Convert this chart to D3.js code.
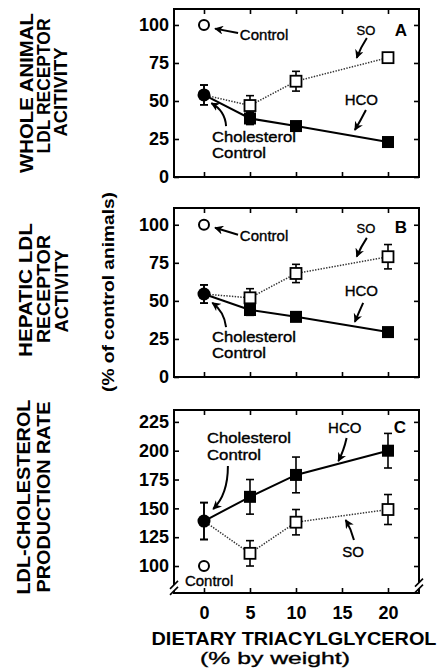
<!DOCTYPE html>
<html>
<head>
  <meta charset="utf-8">
  <title>LDL receptor activity and production rate</title>
  <script src="https://d3js.org/d3.v7.min.js"></script>
  <style>
    body { margin: 0; background: #fff; }
    text { font-family: "Liberation Sans", Arial, sans-serif; fill: #000; }
  </style>
</head>
<body>
  <script>
    // dietary triacylglycerol, % by weight
    var doses = [0, 5, 10, 20];
    var xTicks = [0, 5, 10, 15, 20];

    // panel A: whole animal LDL receptor activity (% of control)
    var wholeHCO = [54, 38.5, 33.5, 23];
    var wholeHCOerr = [6.5, 4, 2.5, 2];
    var wholeSO = [54, 47, 63, 78.5];
    var wholeSOerr = [6.5, 6.5, 6.5, 2];

    // panel B: hepatic LDL receptor activity (% of control)
    var hepHCO = [54.5, 44, 39.5, 29.5];
    var hepHCOerr = [6, 3.5, 2.5, 2];
    var hepSO = [54.5, 52, 68, 79];
    var hepSOerr = [6, 6, 6, 8];

    // panel C: LDL-cholesterol production rate (% of control)
    var prodHCO = [139, 160, 179, 200];
    var prodHCOerr = [16, 15, 15.5, 15];
    var prodSO = [139, 111, 138, 149];
    var prodSOerr = [16, 11, 11, 13];

    var controlValue = 100;
    var ticksAB = [0, 25, 50, 75, 100];
    var ticksC = [100, 125, 150, 175, 200, 225];

    var W = 443, H = 669;
    var svg = d3.select("body").append("svg")
      .attr("width", W).attr("height", H);

    var x = d3.scaleLinear().domain([-3.26, 23.37]).range([174, 419]);

    var panels = [
      { key: "A", hco: wholeHCO, hcoErr: wholeHCOerr, so: wholeSO, soErr: wholeSOerr,
        y: d3.scaleLinear().domain([0, 110.5]).range([177, 9]), ticks: ticksAB,
        title: [["WHOLE  ANIMAL", 33, 93, 160], ["LDL  RECEPTOR", 50, 86, 135], ["ACITIVITY", 67, 92, 89]] },
      { key: "B", hco: hepHCO, hcoErr: hepHCOerr, so: hepSO, soErr: hepSOerr,
        y: d3.scaleLinear().domain([0, 111]).range([377, 208]), ticks: ticksAB,
        title: [["HEPATIC  LDL", 32, 290, 134], ["RECEPTOR", 50, 289, 108], ["ACTIVITY", 68, 291, 83]] },
      { key: "C", hco: prodHCO, hcoErr: prodHCOerr, so: prodSO, soErr: prodSOerr,
        y: d3.scaleLinear().domain([76.6, 235.3]).range([593, 410]), ticks: ticksC,
        title: [["LDL-CHOLESTEROL", 30, 497, 195], ["PRODUCTION RATE", 50, 497, 191]] }
    ];

    var defs = svg.append("defs");
    defs.append("marker")
      .attr("id", "head")
      .attr("viewBox", "0 0 10 10")
      .attr("refX", 9).attr("refY", 5)
      .attr("markerWidth", 9).attr("markerHeight", 9)
      .attr("markerUnits", "userSpaceOnUse")
      .attr("orient", "auto")
      .append("path")
      .attr("d", "M0,0 L10,5 L0,10 L3,5 Z")
      .attr("fill", "#000");

    function drawPanel(p) {
      var y = p.y;
      var g = svg.append("g");
      var x0 = x.range()[0], x1 = x.range()[1];
      var y0 = y.range()[0], y1 = y.range()[1];

      // inward ticks on every side
      g.append("g").attr("transform", "translate(" + x0 + ",0)")
        .call(d3.axisLeft(y).tickValues(p.ticks).tickSizeInner(-5).tickSizeOuter(0).tickPadding(5))
        .call(function (a) {
          a.select(".domain").remove();
          a.selectAll("line").attr("stroke-width", 1.6);
          a.selectAll("text").attr("font-size", 18).attr("font-weight", "bold").attr("font-family", null);
        });
      g.append("g").attr("transform", "translate(" + x1 + ",0)")
        .call(d3.axisRight(y).tickValues(p.ticks).tickSizeInner(-5).tickSizeOuter(0).tickFormat(""))
        .call(function (a) { a.select(".domain").remove(); a.selectAll("line").attr("stroke-width", 1.6); });
      g.append("g").attr("transform", "translate(0," + y1 + ")")
        .call(d3.axisTop(x).tickValues(xTicks).tickSizeInner(-5).tickSizeOuter(0).tickFormat(""))
        .call(function (a) { a.select(".domain").remove(); a.selectAll("line").attr("stroke-width", 1.6); });
      g.append("g").attr("transform", "translate(0," + y0 + ")")
        .call(d3.axisBottom(x).tickValues(xTicks).tickSizeInner(-5).tickSizeOuter(0).tickPadding(13)
          .tickFormat(p.key === "C" ? d3.format("d") : ""))
        .call(function (a) {
          a.select(".domain").remove();
          a.selectAll("line").attr("stroke-width", 1.6);
          a.selectAll("text").attr("font-size", 18).attr("font-weight", "bold").attr("font-family", null);
        });

      g.append("rect")
        .attr("x", x0).attr("y", y1)
        .attr("width", x1 - x0).attr("height", y0 - y1)
        .attr("fill", "none").attr("stroke", "#000").attr("stroke-width", 2);

      // left titles
      p.title.forEach(function (t) {
        g.append("text")
          .attr("transform", "translate(" + t[1] + "," + t[2] + ") rotate(-90)")
          .attr("text-anchor", "middle")
          .attr("font-size", 18).attr("font-weight", "bold")
          .attr("textLength", t[3]).attr("lengthAdjust", "spacingAndGlyphs")
          .text(t[0]);
      });

      var line = d3.line().x(function (d) { return x(d[0]); }).y(function (d) { return y(d[1]); });
      var soPts = doses.map(function (d, j) { return [d, p.so[j], p.soErr[j]]; });
      var hcoPts = doses.map(function (d, j) { return [d, p.hco[j], p.hcoErr[j]]; });

      function errBars(pts) {
        pts.forEach(function (d) {
          var eg = g.append("g").attr("stroke", "#000").attr("stroke-width", 1.6);
          eg.append("line").attr("x1", x(d[0])).attr("x2", x(d[0]))
            .attr("y1", y(d[1] - d[2])).attr("y2", y(d[1] + d[2]));
          [d[1] - d[2], d[1] + d[2]].forEach(function (v) {
            eg.append("line").attr("x1", x(d[0]) - 4).attr("x2", x(d[0]) + 4)
              .attr("y1", y(v)).attr("y2", y(v));
          });
        });
      }

      // SO (dotted, open squares)
      errBars(soPts);
      g.append("path").datum(soPts).attr("d", line)
        .attr("fill", "none").attr("stroke", "#333").attr("stroke-width", 1.5)
        .attr("stroke-dasharray", "1.4,1.4");
      g.selectAll(".so").data(soPts.slice(1)).enter().append("rect")
        .attr("x", function (d) { return x(d[0]) - 5.5; })
        .attr("y", function (d) { return y(d[1]) - 5.5; })
        .attr("width", 11).attr("height", 11)
        .attr("fill", "#fff").attr("stroke", "#000").attr("stroke-width", 1.8);

      // HCO (solid, filled squares)
      errBars(hcoPts);
      g.append("path").datum(hcoPts).attr("d", line)
        .attr("fill", "none").attr("stroke", "#000").attr("stroke-width", 2);
      g.selectAll(".hco").data(hcoPts.slice(1)).enter().append("rect")
        .attr("x", function (d) { return x(d[0]) - 6; })
        .attr("y", function (d) { return y(d[1]) - 6; })
        .attr("width", 12).attr("height", 12)
        .attr("fill", "#000");

      // cholesterol control (filled circle) and control (open circle)
      g.append("circle").attr("cx", x(0)).attr("cy", y(p.hco[0])).attr("r", 6.5).attr("fill", "#000");
      g.append("circle").attr("cx", x(0)).attr("cy", y(controlValue)).attr("r", 5)
        .attr("fill", "#fff").attr("stroke", "#000").attr("stroke-width", 2);

      return g;
    }

    panels.forEach(drawPanel);

    // annotation helpers (positions in data units of each panel)
    function label(p, txt, vx, vy, size, anchor, bold, len) {
      var t = svg.append("text")
        .attr("x", x(vx)).attr("y", p.y(vy))
        .attr("font-size", size)
        .attr("font-weight", bold ? "bold" : "normal")
        .attr("stroke", bold ? null : "#000").attr("stroke-width", bold ? null : 0.35)
        .attr("text-anchor", anchor || "start")
        .text(txt);
      if (len) t.attr("textLength", len).attr("lengthAdjust", "spacingAndGlyphs");
    }
    function arrow(p, pts) {
      var path = d3.path();
      path.moveTo(x(pts[0][0]), p.y(pts[0][1]));
      if (pts.length === 3) {
        path.quadraticCurveTo(x(pts[1][0]), p.y(pts[1][1]), x(pts[2][0]), p.y(pts[2][1]));
      } else {
        path.lineTo(x(pts[1][0]), p.y(pts[1][1]));
      }
      svg.append("path").attr("d", path.toString())
        .attr("fill", "none").attr("stroke", "#000").attr("stroke-width", 2)
        .attr("marker-end", "url(#head)");
    }

    var A = panels[0], B = panels[1], C = panels[2];

    label(A, "Control", 3.9, 90.1, 15);
    arrow(A, [[3.7, 94.7], [1.2, 97.6]]);
    label(A, "SO", 17.6, 93.4, 13, "middle");
    arrow(A, [[17.7, 91.4], [17.0, 85], [16.6, 78.3]]);
    label(A, "A", 21.4, 92.8, 17, "middle", true);
    label(A, "HCO", 17.1, 47.4, 15, "middle");
    arrow(A, [[17.6, 44.1], [17.0, 37], [16.4, 30.9]]);
    label(A, "Cholesterol", 0.87, 23, 14, "start", false, 84);
    label(A, "Control", 0.87, 12.3, 14, "start", false, 54);
    arrow(A, [[2.4, 33.5], [2.3, 43.5], [0.8, 48.6]]);

    label(B, "Control", 3.9, 89.5, 15);
    arrow(B, [[3.7, 93.4], [1.2, 98]]);
    label(B, "SO", 17.6, 94.7, 13, "middle");
    arrow(B, [[17.7, 91.4], [17.0, 85], [16.6, 79]]);
    label(B, "B", 21.4, 94.7, 17, "middle", true);
    label(B, "HCO", 17.1, 53.3, 15, "middle");
    arrow(B, [[17.3, 48.7], [16.8, 42], [16.4, 36.2]]);
    label(B, "Cholesterol", 0.87, 23, 14, "start", false, 84);
    label(B, "Control", 0.87, 12.3, 14, "start", false, 54);
    arrow(B, [[2.4, 32.8], [2.2, 43], [0.9, 48.8]]);

    label(C, "Cholesterol", 0.33, 206.3, 14, "start", false, 84);
    label(C, "Control", 0.33, 192, 14, "start", false, 54);
    arrow(C, [[2.6, 186.7], [2.6, 162], [1.0, 149.4]]);
    label(C, "HCO", 15.3, 215.3, 15, "middle");
    arrow(C, [[15.5, 211], [15.2, 200], [14.6, 191]]);
    label(C, "C", 21.3, 215.3, 17, "middle", true);
    label(C, "SO", 16.2, 107.8, 15, "middle");
    arrow(C, [[16.3, 122.5], [16.0, 132], [15.4, 139.9]]);
    label(C, "Control", -2.07, 82.7, 15);

    // axis breaks on panel C
    function axisBreak(px, v) {
      var cy = C.y(v);
      svg.append("rect").attr("x", px - 4).attr("y", cy - 3).attr("width", 8).attr("height", 6).attr("fill", "#fff");
      [-3, 3].forEach(function (o) {
        svg.append("line")
          .attr("x1", px - 4).attr("y1", cy + o + 4)
          .attr("x2", px + 4).attr("y2", cy + o - 4)
          .attr("stroke", "#000").attr("stroke-width", 1.6);
      });
    }
    axisBreak(x.range()[0], 81);
    axisBreak(x.range()[1], 83);

    // x axis title
    svg.append("text").attr("x", 294).attr("y", 645)
      .attr("text-anchor", "middle").attr("font-size", 18).attr("font-weight", "bold")
      .attr("textLength", 285).attr("lengthAdjust", "spacingAndGlyphs")
      .text("DIETARY TRIACYLGLYCEROL");
    svg.append("text").attr("x", 275).attr("y", 664)
      .attr("text-anchor", "middle").attr("font-size", 17)
      .attr("stroke", "#000").attr("stroke-width", 0.35)
      .attr("textLength", 150).attr("lengthAdjust", "spacingAndGlyphs")
      .text("(% by weight)");

    // shared y title
    svg.append("text")
      .attr("transform", "translate(114,292) rotate(-90)")
      .attr("text-anchor", "middle").attr("font-size", 16).attr("font-weight", "bold")
      .attr("textLength", 200).attr("lengthAdjust", "spacingAndGlyphs")
      .text("(% of control animals)");
  </script>
</body>
</html>
